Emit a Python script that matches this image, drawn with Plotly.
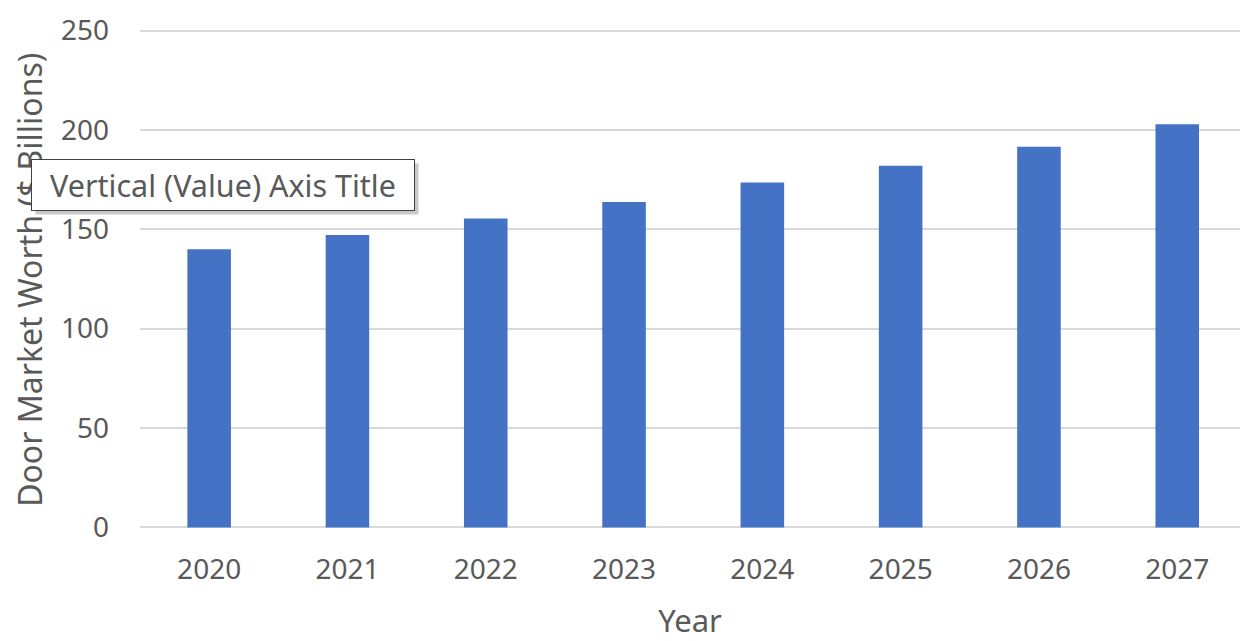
import plotly.graph_objects as go

years = ["2020", "2021", "2022", "2023", "2024", "2025", "2026", "2027"]
worth = [140.0, 147.2, 155.4, 163.8, 173.5, 182.0, 191.6, 202.9]
y_ticks = [0, 50, 100, 150, 200, 250]

FONT = "Noto Sans, Open Sans, sans-serif"
GRAY = "#595959"

W, H = 1240, 641
PX_PER_UNIT = 496.3 / 250
Y0_PX, Y250_PX = 527.3, 31.0
YMIN, YMAX = -0.8, 250.8
T = Y250_PX - (YMAX - 250) * PX_PER_UNIT
B = H - (Y0_PX + (0 - YMIN) * PX_PER_UNIT)
L, R = 140, 0
pw, ph = W - L - R, H - T - B

def px(x):
    return (x - L) / pw

def py(y):
    return (H - B - y) / ph

fig = go.Figure(go.Bar(
    x=list(range(len(years))), y=worth,
    marker=dict(color="#4472C4", line=dict(width=0)),
    width=0.315,
))

fig.update_layout(
    width=W, height=H,
    margin=dict(l=L, r=R, t=T, b=B),
    paper_bgcolor="white", plot_bgcolor="white",
    showlegend=False,
    font=dict(family=FONT, color=GRAY, size=28),
    xaxis=dict(
        tickmode="array", tickvals=list(range(len(years))), ticktext=years,
        range=[-0.5, -0.5 + pw / 138.3],
        showgrid=False, zeroline=False, showline=False, ticks="",
        tickfont=dict(size=28, color=GRAY),
        ticklabelstandoff=21,
        title=dict(text="Year", font=dict(size=31, color=GRAY), standoff=31),
    ),
    yaxis=dict(
        range=[YMIN, YMAX], tickvals=y_ticks,
        showgrid=True, gridcolor="#d9d9d9", gridwidth=1.5,
        zeroline=False, showline=False, ticks="",
        tickfont=dict(size=28, color=GRAY),
        ticklabelstandoff=30,
    ),
)

# y-axis title (partly hidden by the tooltip box)
fig.add_annotation(
    text="Door Market Worth ($ Billions)", textangle=-90,
    xref="paper", yref="paper", x=px(30), y=py(280),
    xanchor="center", yanchor="middle", showarrow=False,
    font=dict(size=32, color=GRAY, family=FONT),
)
# tooltip shadow
fig.add_annotation(
    text=" ", xref="paper", yref="paper", x=px(227), y=py(189),
    xanchor="center", yanchor="middle", showarrow=False,
    width=382, height=50, borderpad=0, bgcolor="rgba(120,120,120,0.4)",
)
# tooltip box
fig.add_annotation(
    text="Vertical (Value) Axis Title", xref="paper", yref="paper",
    x=px(223), y=py(185), xanchor="center", yanchor="middle", showarrow=False,
    width=382, height=50, borderpad=0, bgcolor="white",
    bordercolor="#404040", borderwidth=1,
    font=dict(size=30.5, color=GRAY, family=FONT),
)

fig.write_html("out.html")
